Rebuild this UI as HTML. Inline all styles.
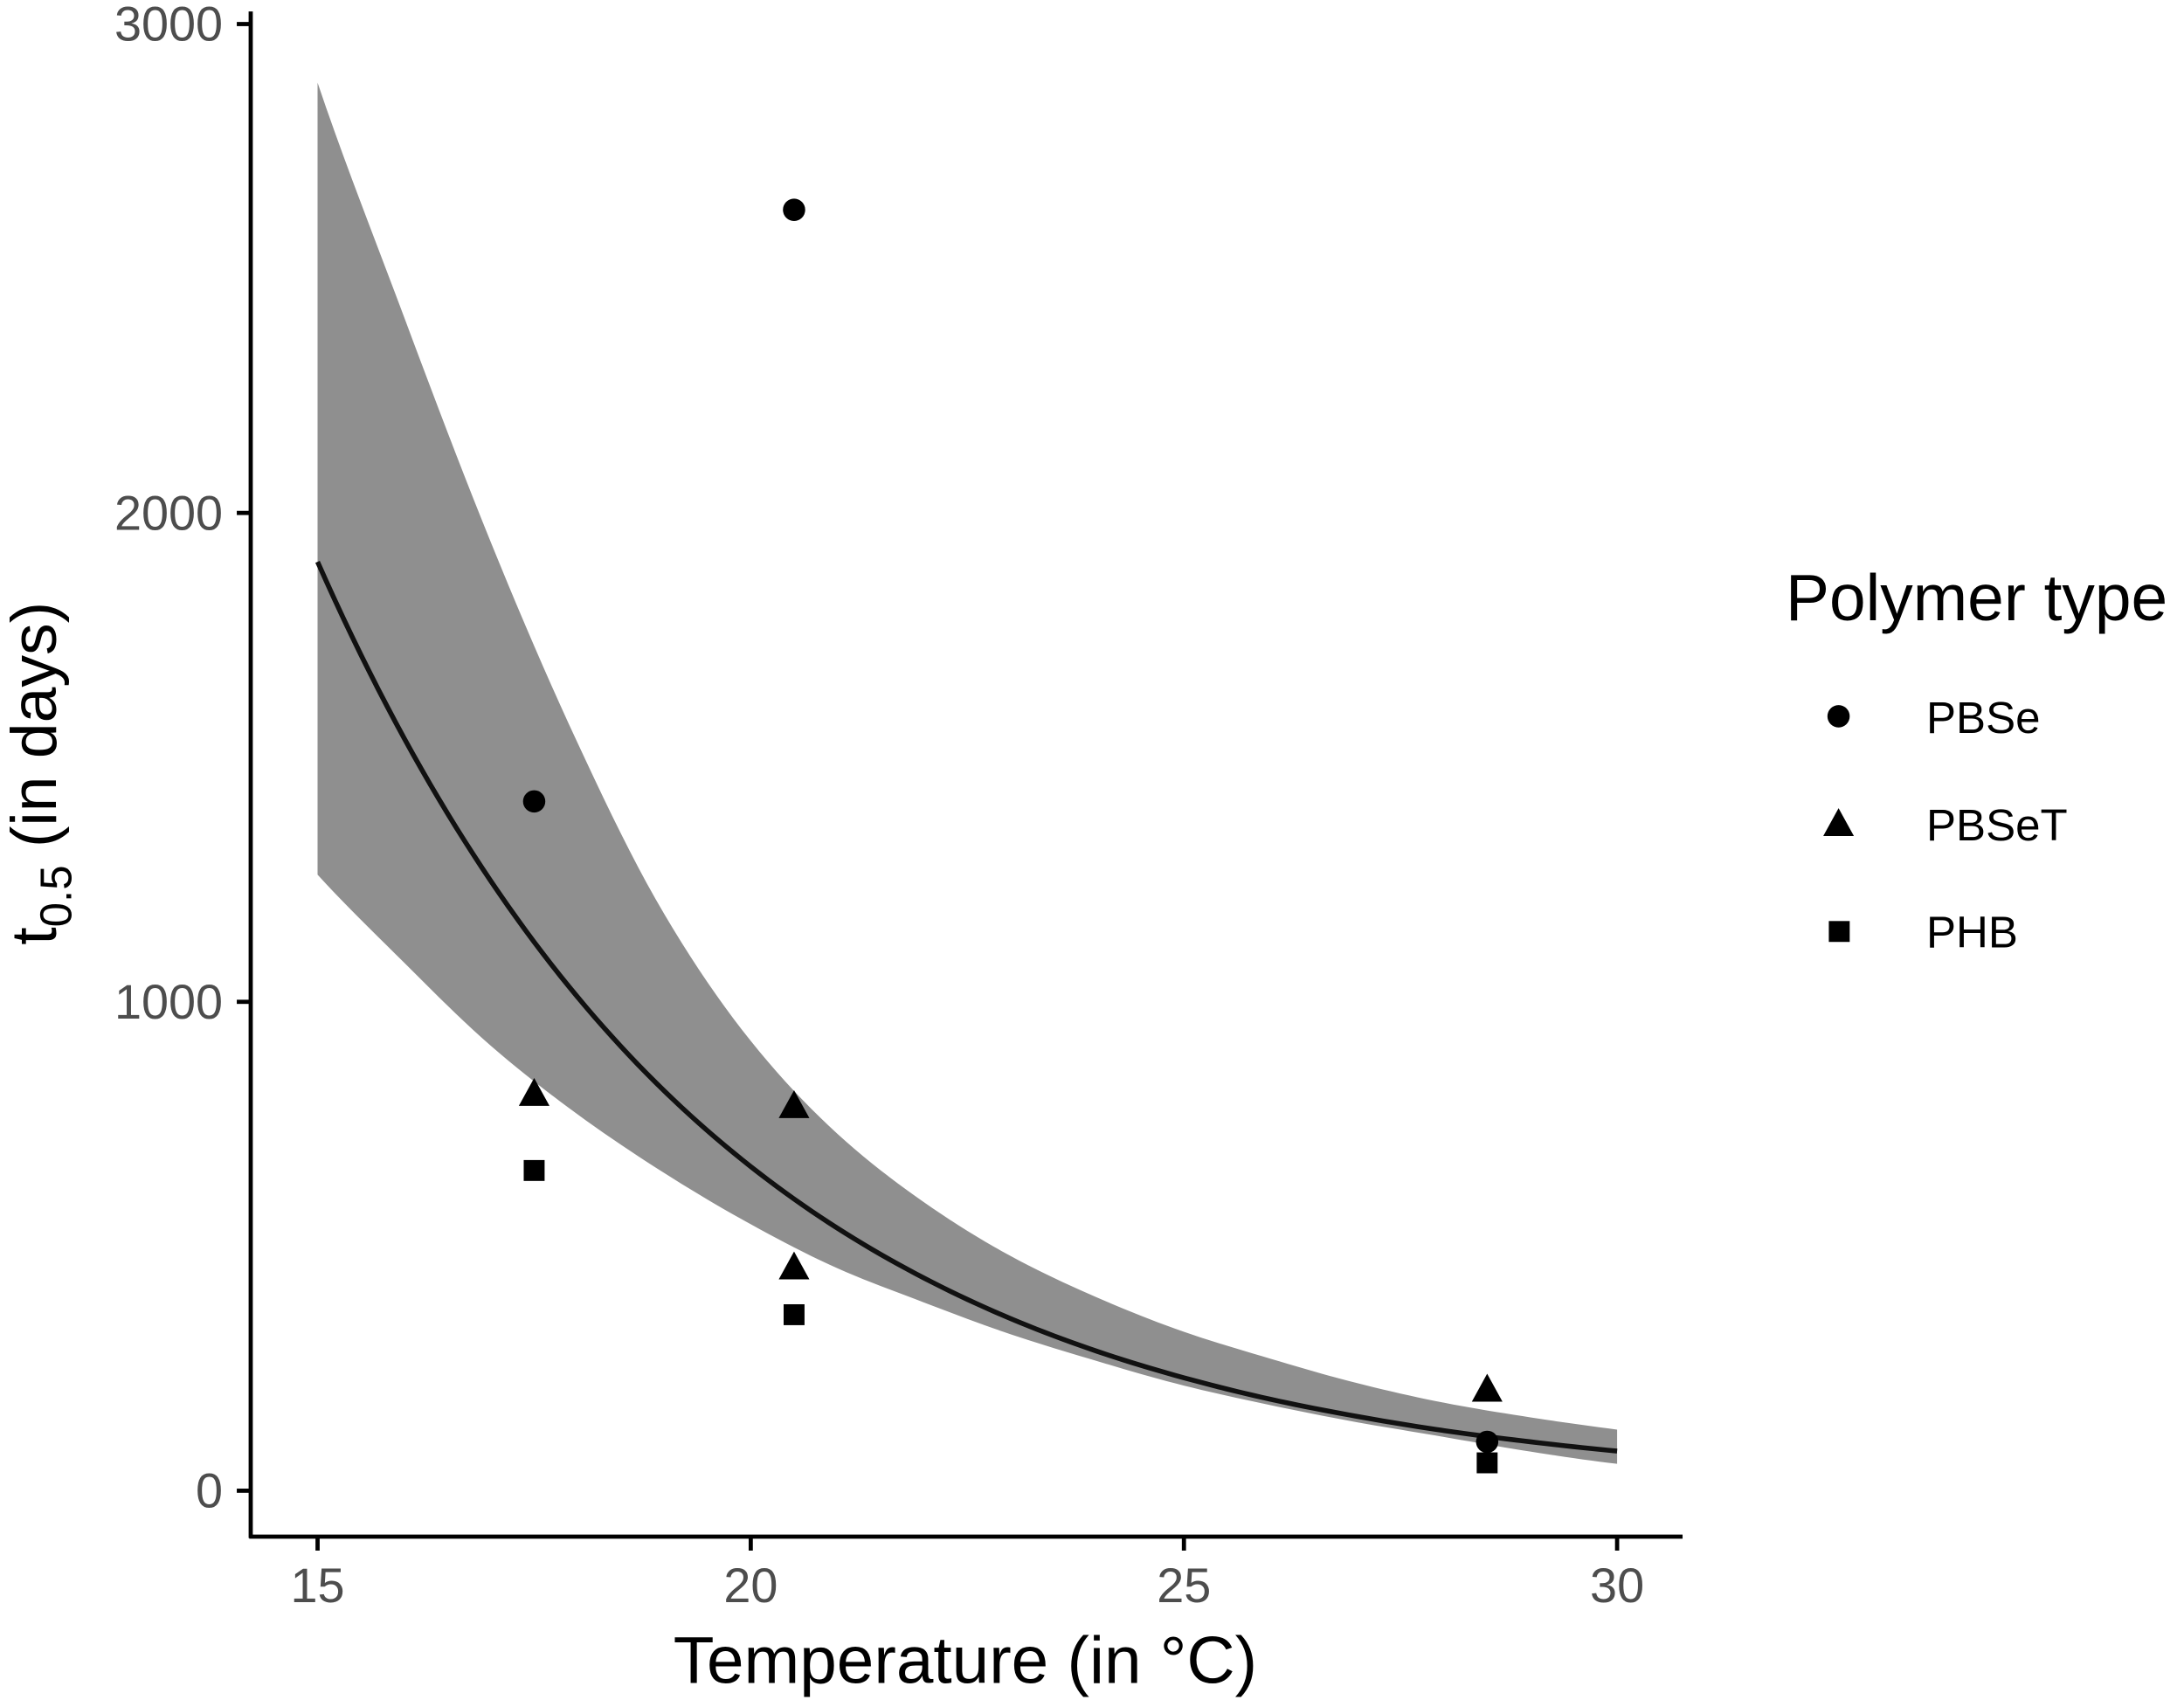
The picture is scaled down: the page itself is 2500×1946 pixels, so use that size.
<!DOCTYPE html>
<html><head><meta charset="utf-8"><style>
html,body{margin:0;padding:0;background:#fff;}
svg{display:block;font-family:"Liberation Sans",sans-serif;}
</style></head><body>
<svg id="chart" width="2500" height="1946" viewBox="0 0 1568 1220" xmlns="http://www.w3.org/2000/svg">
<g id="ribbon-g"></g>
<g id="line-g"></g>
<g id="pts-g"></g>
<g id="axes-g"></g>
<text x="693" y="1208" font-size="48" text-anchor="middle" fill="#000">Temperature (in °C)</text>
<text transform="translate(40,555) rotate(-90)" font-size="46" text-anchor="middle" fill="#000">t<tspan font-size="32" dy="11">0.5</tspan><tspan dy="-11"> (in days)</tspan></text>
<g>
<text x="1282" y="445" font-size="47" fill="#000">Polymer type</text>
<g><circle cx="1320" cy="514" r="8" fill="#000"/><text x="1383" y="526" font-size="32">PBSe</text></g>
<g><polygon points="1320,580 1331,600 1309,600" fill="#000"/><text x="1383" y="603" font-size="32">PBSeT</text></g>
<g><rect x="1313" y="661" width="15" height="15" fill="#000"/><text x="1383" y="680" font-size="32">PHB</text></g>
</g>
</svg>
<script>
const temps=[15,16,17,18,19,20,21,22,23,24,25,26,27,28,29,30];
const fitVals=[1900,1539,1247,1010,818,663,537,435,352,285,231,187,152,123,100,81];
const upperVals=[2880,2400,1940,1530,1180,920,730,590,480,395,325,270,220,180,150,125];
const lowerVals=[1260,1080,910,770,650,545,455,385,320,265,215,175,140,110,80,55];
const ptTemp=[17.5,20.5,28.5,17.5,20.5,20.5,28.5,17.5,20.5,28.5];
const ptVal=[1410,2620,100,810,785,455,205,655,360,57];
const ptType=["PBSe","PBSe","PBSe","PBSeT","PBSeT","PBSeT","PBSeT","PHB","PHB","PHB"];
const xTicks=[15,20,25,30];
const yTicks=[0,1000,2000,3000];
const NS="http://www.w3.org/2000/svg";
const X=t=>228+(t-15)*(1161-228)/15;
const Y=v=>1070-v*0.351;
function mk(tag,attrs,parent){const e=document.createElementNS(NS,tag);for(const k in attrs)e.setAttribute(k,attrs[k]);parent.appendChild(e);return e;}
function smooth(vals){const L=vals.map(v=>Math.log(v));const n=L.length;const out=[];
 const g=j=>j<0?2*L[0]-L[1]:(j>=n?2*L[n-1]-L[n-2]:L[j]);
 for(let i=0;i<n-1;i++){const p0=g(i-1),p1=g(i),p2=g(i+1),p3=g(i+2);
  for(let s=0;s<10;s++){const f=s/10,f2=f*f,f3=f2*f;
   const lv=0.5*(2*p1+(-p0+p2)*f+(2*p0-5*p1+4*p2-p3)*f2+(-p0+3*p1-3*p2+p3)*f3);
   out.push([X(temps[i]+f*(temps[i+1]-temps[i])),Y(Math.exp(lv))]);}}
 out.push([X(temps[n-1]),Y(vals[n-1])]);return out;}
const up=smooth(upperVals),lo=smooth(lowerVals).reverse();
const rib=mk("path",{d:"M"+up.concat(lo).map(p=>p.join(",")).join("L")+"Z",fill:"#8f8f8f"},document.getElementById("ribbon-g"));


const ln=mk("polyline",{points:smooth(fitVals).map(p=>p.join(",")).join(" "),fill:"none",stroke:"#111",'stroke-width':3.5},document.getElementById("line-g"));


const pg=document.getElementById("pts-g");
ptTemp.forEach((t,i)=>{const cx=X(t),cy=Y(ptVal[i]);let e;
 if(ptType[i]==="PBSe")e=mk("circle",{cx:cx,cy:cy,r:8,fill:"#000"},pg);
 else if(ptType[i]==="PBSeT")e=mk("polygon",{points:`${cx},${cy-12} ${cx+11},${cy+8} ${cx-11},${cy+8}`,fill:"#000"},pg);
 else e=mk("rect",{x:cx-7.5,y:cy-7.5,width:15,height:15,fill:"#000"},pg);
 
 
});
const ag=document.getElementById("axes-g");
const ya=mk("line",{x1:180,y1:8,x2:180,y2:1104,stroke:"#000","stroke-width":3},ag);


const xa=mk("line",{x1:179,y1:1103,x2:1208,y2:1103,stroke:"#000","stroke-width":3},ag);


yTicks.forEach(v=>{const y=Y(v);
 mk("line",{x1:170,y1:y,x2:180,y2:y,stroke:"#000","stroke-width":3},ag);
 const t=mk("text",{x:160,y:y+12,"font-size":35,"text-anchor":"end",fill:"#4d4d4d"},ag);t.textContent=v;
 
 
});
xTicks.forEach(v=>{const x=X(v);
 mk("line",{x1:x,y1:1103,x2:x,y2:1113,stroke:"#000","stroke-width":3},ag);
 const t=mk("text",{x:x,y:1150,"font-size":35,"text-anchor":"middle",fill:"#4d4d4d"},ag);t.textContent=v;
 
 
});
</script>
</body></html>
